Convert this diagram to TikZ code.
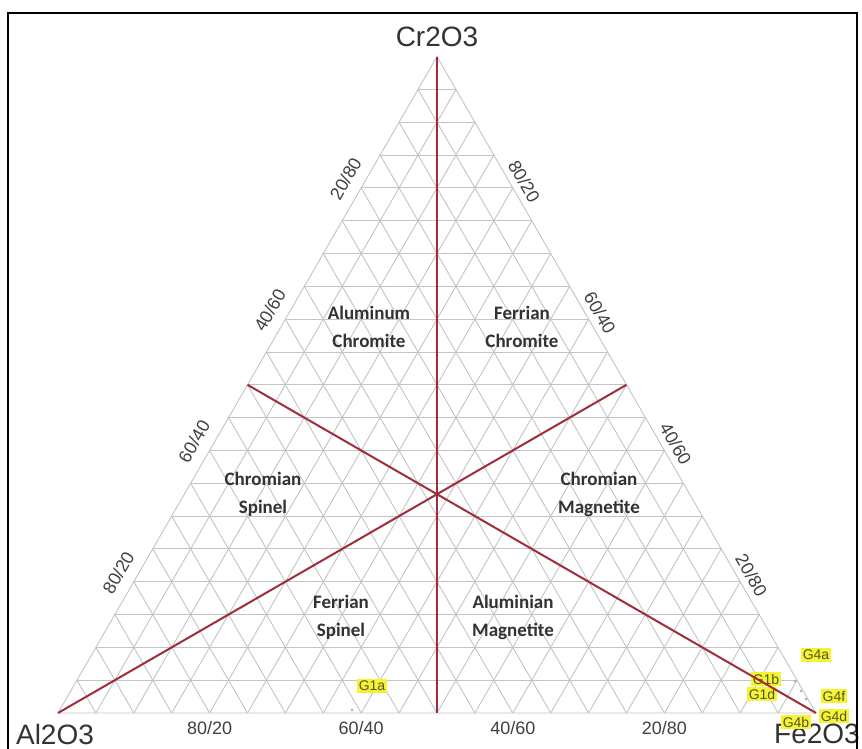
\documentclass[tikz,border=0pt]{standalone}
\usepackage{fontspec}
\setmainfont{Liberation Sans}
\newfontfamily\regfont{Carlito}
\usetikzlibrary{calc}
\definecolor{gridc}{RGB}{196,196,196}
\definecolor{redl}{RGB}{160,45,60}
\definecolor{hl}{RGB}{244,244,50}
\definecolor{hltext}{RGB}{85,85,40}
\definecolor{regtext}{RGB}{50,50,50}
\tikzset{
  gridline/.style={draw=gridc, line width=0.9pt},
  redline/.style={draw=redl, line width=2pt},
  vertexlab/.style={font=\fontsize{28}{32}\selectfont, text=black!80, inner sep=0pt},
  axlab/.style={font=\fontsize{18}{20}\selectfont, text=black!75, inner sep=0pt},
  reglab/.style={font=\regfont\bfseries\fontsize{19}{28}\selectfont, text=regtext, align=center, inner sep=0pt},
  hlbox/.style={fill=hl, text=hltext, font=\fontsize{14}{16}\selectfont, inner xsep=1.5pt, inner ysep=2pt},
  datapt/.style={fill=gray!60, draw=none}
}
\begin{document}
\begin{tikzpicture}[x=1pt,y=-1pt]
\useasboundingbox (0,0) rectangle (862,749);
\fill[white] (0,0) rectangle (862,749);
% vertices
\coordinate (A) at (58,713);
\coordinate (F) at (816,713);
\coordinate (C) at (437,56.6);
% grid
\foreach \i in {1,...,19}{
  \draw[gridline] ($(A)!\i/20!(C)$) -- ($(F)!\i/20!(C)$);
  \draw[gridline] ($(A)!\i/20!(F)$) -- ($(C)!\i/20!(F)$);
  \draw[gridline] ($(A)!\i/20!(F)$) -- ($(A)!\i/20!(C)$);
}
\draw[gridline] (A) -- (F) -- (C) -- cycle;
% midpoints
\coordinate (mAF) at ($(A)!0.5!(F)$);
\coordinate (mFC) at ($(F)!0.5!(C)$);
\coordinate (mAC) at ($(A)!0.5!(C)$);
% vertex labels
\node[vertexlab] (lC) at (437,37) {Cr2O3};
\node[vertexlab] (lA) at (55,734) {Al2O3};
\node[vertexlab] (lF) at (817,734) {Fe2O3};
% bottom axis labels
\node[axlab] (b1) at ($(A)!0.2!(F)+(0,15)$) {80/20};
\node[axlab] (b2) at ($(A)!0.4!(F)+(0,15)$) {60/40};
\node[axlab] (b3) at ($(A)!0.6!(F)+(0,15)$) {40/60};
\node[axlab] (b4) at ($(A)!0.8!(F)+(0,15)$) {20/80};
% left axis labels
\node[axlab, rotate=60] (l1) at ($(A)!0.8!(C)+(-15.6,-9)$) {20/80};
\node[axlab, rotate=60] (l2) at ($(A)!0.6!(C)+(-15.6,-9)$) {40/60};
\node[axlab, rotate=60] (l3) at ($(A)!0.4!(C)+(-15.6,-9)$) {60/40};
\node[axlab, rotate=60] (l4) at ($(A)!0.2!(C)+(-15.6,-9)$) {80/20};
% right axis labels
\node[axlab, rotate=-60] (r1) at ($(F)!0.8!(C)+(11.3,-6.5)$) {80/20};
\node[axlab, rotate=-60] (r2) at ($(F)!0.6!(C)+(11.3,-6.5)$) {60/40};
\node[axlab, rotate=-60] (r3) at ($(F)!0.4!(C)+(11.3,-6.5)$) {40/60};
\node[axlab, rotate=-60] (r4) at ($(F)!0.2!(C)+(11.3,-6.5)$) {20/80};
% region labels
\node[reglab] (alc) at (369,327) {Aluminum\\Chromite};
\node[reglab] (fec) at (522,327) {Ferrian\\Chromite};
\node[reglab] (crs) at (263,494) {Chromian\\Spinel};
\node[reglab] (crm) at (599,494) {Chromian\\Magnetite};
\node[reglab] (fes) at (341,617) {Ferrian\\Spinel};
\node[reglab] (alm) at (513,617) {Aluminian\\Magnetite};
% data points
\fill[datapt] (352,710) circle (1.5);
\fill[datapt] (795,681) circle (1.5);
\fill[datapt] (801,691) circle (1.5);
\fill[datapt] (806,699) circle (1.5);
% sample labels
\node[hlbox] (g1a) at (372,686) {G1a};
\node[hlbox] (g4a) at (816,655) {G4a};
\node[hlbox] (g1b) at (766,679) {G1b};
\node[hlbox] (g1d) at (762,694) {G1d};
\node[hlbox] (g4f) at (834,696) {G4f};
\node[hlbox] (g4d) at (834,716) {G4d};
\node[hlbox] (g4b) at (796,722) {G4b};
% red dividing lines
\draw[redline] (C) -- (mAF);
\draw[redline] (A) -- (mFC);
\draw[redline] (F) -- (mAC);
% frame
\draw[line width=2pt, black] (8,749) -- (8,13) -- (857,13) -- (857,749);
\end{tikzpicture}
\end{document}
